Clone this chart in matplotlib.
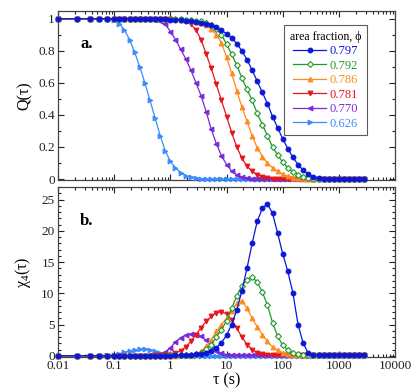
import matplotlib
matplotlib.use("Agg")
import matplotlib.pyplot as plt
from matplotlib.lines import Line2D
from matplotlib.ticker import FuncFormatter, LogLocator, MultipleLocator, NullFormatter

plt.rcParams["font.family"] = ["Liberation Serif", "DejaVu Serif"]
plt.rcParams["mathtext.fontset"] = "custom"
plt.rcParams["mathtext.rm"] = "Liberation Serif"
plt.rcParams["mathtext.it"] = "Liberation Serif:italic"

# lag times (s)
tau = [0.01, 0.022, 0.037, 0.054, 0.075,
       0.1, 0.123, 0.152, 0.187, 0.231, 0.285, 0.351, 0.433, 0.534, 0.658, 0.811,
       1.0, 1.23, 1.52, 1.87, 2.31, 2.85, 3.51, 4.33, 5.34, 6.58, 8.11,
       10.0, 12.3, 15.2, 18.7, 23.1, 28.5, 35.1, 43.3, 53.4, 65.8, 81.1,
       100, 123, 152, 187, 231, 285, 351, 433, 534, 658, 811,
       1000, 1230, 1520, 1870, 2310, 2850]

phi_labels = ["0.797", "0.792", "0.786", "0.781", "0.770", "0.626"]

# overlap function Q(tau)
q_797 = [1, 1, 1, 1, 1,
         1, 1, 1, 1, 1, 1, 1, 0.999, 0.998, 0.997, 0.996,
         0.995, 0.993, 0.99, 0.987, 0.984, 0.98, 0.975, 0.968, 0.96, 0.948, 0.93,
         0.905, 0.88, 0.845, 0.80, 0.745, 0.68, 0.61, 0.54, 0.47, 0.39, 0.32,
         0.25, 0.19, 0.135, 0.09, 0.055, 0.03, 0.015, 0.007, 0.003, 0.001, 0,
         0, 0, 0, 0, 0, 0]
q_792 = [1, 1, 1, 1, 1,
         1, 1, 1, 1, 1, 1, 1, 1, 1, 0.999, 0.999,
         0.999, 0.998, 0.996, 0.994, 0.992, 0.989, 0.985, 0.975, 0.96, 0.935, 0.90,
         0.84, 0.78, 0.71, 0.63, 0.56, 0.49, 0.41, 0.34, 0.27, 0.20, 0.15,
         0.105, 0.07, 0.045, 0.027, 0.015, 0.007, 0.003, 0.001, 0, 0, 0,
         0, 0, 0, 0, 0, 0]
q_786 = [1, 1, 1, 1, 1,
         1, 1, 1, 1, 1, 1, 1, 1, 1, 0.999, 0.999,
         0.998, 0.997, 0.995, 0.99, 0.985, 0.98, 0.975, 0.96, 0.935, 0.90, 0.85,
         0.76, 0.66, 0.55, 0.45, 0.36, 0.27, 0.195, 0.14, 0.10, 0.07, 0.048,
         0.03, 0.018, 0.009, 0.004, 0.001, 0, 0, 0, 0, 0, 0,
         0, 0, 0, 0, 0, 0]
q_781 = [1, 1, 1, 1, 1,
         1, 1, 1, 1, 1, 1, 1, 1, 1, 1, 1,
         0.998, 0.995, 0.99, 0.985, 0.965, 0.93, 0.87, 0.78, 0.69, 0.59, 0.49,
         0.39, 0.29, 0.20, 0.13, 0.08, 0.048, 0.028, 0.014, 0.006, 0.002, 0,
         0, 0, 0, 0, 0, 0, 0, 0, 0, 0, 0,
         0, 0, 0, 0, 0, 0]
q_770 = [1, 1, 1, 1, 1,
         1, 1, 1, 1, 1, 1, 1, 1, 0.995, 0.985, 0.965,
         0.92, 0.87, 0.81, 0.75, 0.68, 0.60, 0.52, 0.42, 0.31, 0.22, 0.145,
         0.09, 0.05, 0.027, 0.012, 0.005, 0.002, 0, 0, 0, 0, 0,
         0, 0, 0, 0, 0, 0, 0, 0, 0, 0, 0,
         0, 0, 0, 0, 0, 0]
q_626 = [1, 1, 1, 1, 1,
         0.99, 0.97, 0.93, 0.87, 0.79, 0.70, 0.60, 0.49, 0.38, 0.27, 0.175,
         0.11, 0.07, 0.04, 0.02, 0.01, 0.004, 0, 0, 0, 0, 0,
         0, 0, 0, 0, 0, 0, 0, 0, 0, 0, 0,
         0, 0, 0, 0, 0, 0, 0, 0, 0, 0, 0,
         0, 0, 0, 0, 0, 0]

# dynamic susceptibility chi4(tau)
c_797 = [0, 0, 0, 0, 0,
         0, 0, 0, 0, 0, 0, 0, 0, 0, 0, 0,
         0, 0.05, 0.08, 0.1, 0.15, 0.22, 0.35, 0.5, 0.8, 1.3, 2.1,
         3.3, 5.0, 7.3, 10.4, 14.0, 18.0, 21.5, 23.6, 24.3, 22.8, 19.6,
         16.3, 13.5, 10.0, 5.0, 2.0, 0.4, 0.2, 0.1, 0.1, 0.1, 0.1,
         0.1, 0.1, 0.1, 0.1, 0.1, 0.1]
c_792 = [0, 0, 0, 0, 0,
         0, 0, 0, 0, 0, 0, 0, 0, 0, 0, 0,
         0.05, 0.08, 0.1, 0.15, 0.2, 0.3, 0.5, 1.1, 1.8, 3.0, 4.2,
         5.6, 7.6, 9.6, 11.2, 12.2, 12.6, 11.8, 10.2, 8.1, 5.3, 3.1,
         1.7, 0.9, 0.4, 0.25, 0.15, 0.1, 0.1, 0.1, 0.1, 0.1, 0.1,
         0.1, 0.1, 0.1, 0.1, 0.1, 0.1]
c_786 = [0, 0, 0, 0, 0,
         0, 0, 0, 0, 0, 0, 0, 0, 0, 0, 0,
         0, 0, 0.1, 0.15, 0.2, 0.3, 0.7, 1.5, 2.6, 3.9, 5.0,
         6.0, 7.2, 8.4, 8.8, 7.6, 6.0, 4.6, 3.4, 2.3, 1.4, 0.9,
         0.5, 0.3, 0.2, 0.1, 0.1, 0.1, 0.1, 0.1, 0.1, 0.1, 0.1,
         0.1, 0.1, 0.1, 0.1, 0.1, 0.1]
c_781 = [0, 0, 0, 0, 0,
         0, 0, 0, 0, 0, 0, 0, 0, 0.05, 0.07, 0.1,
         0.15, 0.4, 0.8, 1.4, 2.3, 3.4, 4.5, 5.5, 6.3, 6.9, 7.0,
         6.7, 5.8, 4.4, 3.0, 1.8, 1.0, 0.5, 0.3, 0.2, 0.1, 0.1,
         0.1, 0.1, 0.1, 0.1, 0.1, 0.1, 0.1, 0.1, 0.1, 0.1, 0.1,
         0.1, 0.1, 0.1, 0.1, 0.1, 0.1]
c_770 = [0, 0, 0, 0, 0,
         0, 0, 0, 0, 0, 0, 0, 0.05, 0.1, 0.2, 0.6,
         1.3, 2.2, 2.9, 3.3, 3.45, 3.4, 3.1, 2.5, 1.6, 0.8, 0.4,
         0.2, 0.1, 0.1, 0.1, 0.1, 0.1, 0.1, 0.1, 0.1, 0.1, 0.1,
         0.1, 0.1, 0.1, 0.1, 0.1, 0.1, 0.1, 0.1, 0.1, 0.1, 0.1,
         0.1, 0.1, 0.1, 0.1, 0.1, 0.1]
c_626 = [0, 0, 0, 0, 0.05,
         0.15, 0.35, 0.55, 0.8, 0.95, 1.1, 1.1, 0.95, 0.7, 0.45, 0.25,
         0.12, 0.05, 0.02, 0, 0, 0, 0, 0, 0, 0, 0,
         0, 0, 0, 0, 0, 0, 0, 0, 0, 0, 0,
         0, 0, 0, 0, 0, 0, 0, 0, 0, 0, 0,
         0, 0, 0, 0, 0, 0]

q_all = [q_797, q_792, q_786, q_781, q_770, q_626]
c_all = [c_797, c_792, c_786, c_781, c_770, c_626]

colors = ["#0b17d6", "#1f9a2a", "#ff8a1e", "#e8141c", "#7a2ad6", "#3a8cff"]
markers = ["o", "D", "^", "v", "<", ">"]
msizes = [3.4, 3.0, 3.4, 3.4, 3.4, 3.4]

fig = plt.figure(figsize=(4.15, 3.9), dpi=100)
ax_q = fig.add_axes([0.140, 0.5385, 0.812, 0.434])
ax_c = fig.add_axes([0.140, 0.0854, 0.812, 0.435])


def style_series(k):
    face = "white" if markers[k] == "D" else colors[k]
    return dict(color=colors[k], marker=markers[k], ms=msizes[k], lw=0.9,
                mfc=face, mec=colors[k], mew=0.8)


# draw the slowest sample last so it sits on top
for k in reversed(range(len(phi_labels))):
    ax_q.plot(tau, q_all[k], clip_on=False, zorder=3 + (5 - k) * 0.1, **style_series(k))
    ax_c.plot(tau, c_all[k], clip_on=False, zorder=3 + (5 - k) * 0.1, **style_series(k))

fmt = FuncFormatter(lambda v, p: "%g" % v)
for ax in (ax_q, ax_c):
    ax.set_xscale("log")
    ax.set_xlim(0.01, 10000)
    ax.xaxis.set_major_locator(LogLocator(base=10, numticks=12))
    ax.xaxis.set_minor_locator(LogLocator(base=10, subs=range(2, 10), numticks=12))
    ax.xaxis.set_minor_formatter(NullFormatter())
    ax.tick_params(which="both", direction="in", top=True, right=True,
                   labelsize=9.5, colors="#222222", width=0.8, pad=2.5)
    ax.tick_params(which="major", length=4)
    ax.tick_params(which="minor", length=2)
    for sp in ax.spines.values():
        sp.set_color("#444444")
        sp.set_linewidth(0.9)

ax_q.set_ylim(-0.006, 1.05)
ax_q.yaxis.set_major_locator(MultipleLocator(0.2))
ax_q.yaxis.set_minor_locator(MultipleLocator(0.1))
ax_q.yaxis.set_major_formatter(fmt)
ax_q.tick_params(axis="x", labelbottom=False)
ax_q.set_ylabel("Q(τ)", fontsize=11.5, labelpad=4)
ax_q.text(0.065, 0.78, "a.", transform=ax_q.transAxes, fontsize=12, fontweight="bold")

ax_c.set_ylim(-0.15, 27)
ax_c.yaxis.set_major_locator(MultipleLocator(5))
ax_c.yaxis.set_minor_locator(MultipleLocator(1))
ax_c.yaxis.set_major_formatter(fmt)
ax_c.xaxis.set_major_formatter(fmt)
ax_c.set_ylabel("χ$_4$(τ)", fontsize=11.5, labelpad=6)
ax_c.set_xlabel("τ (s)", fontsize=11.5, labelpad=0)
ax_c.text(0.065, 0.775, "b.", transform=ax_c.transAxes, fontsize=12, fontweight="bold")

handles = [Line2D([], [], **style_series(k)) for k in range(len(phi_labels))]
leg = ax_q.legend(handles, phi_labels, title="area fraction, ϕ", loc="upper right",
                  bbox_to_anchor=(0.916, 0.915), borderaxespad=0, fontsize=9,
                  title_fontsize=8.5, frameon=True, fancybox=False, handlelength=2.6,
                  handletextpad=0.25, labelspacing=0.2, borderpad=0.45)
leg.get_frame().set_edgecolor("#333333")
leg.get_frame().set_linewidth(0.8)
for txt, col in zip(leg.get_texts(), colors):
    txt.set_color(col)

fig.savefig("out.png", dpi=100)
